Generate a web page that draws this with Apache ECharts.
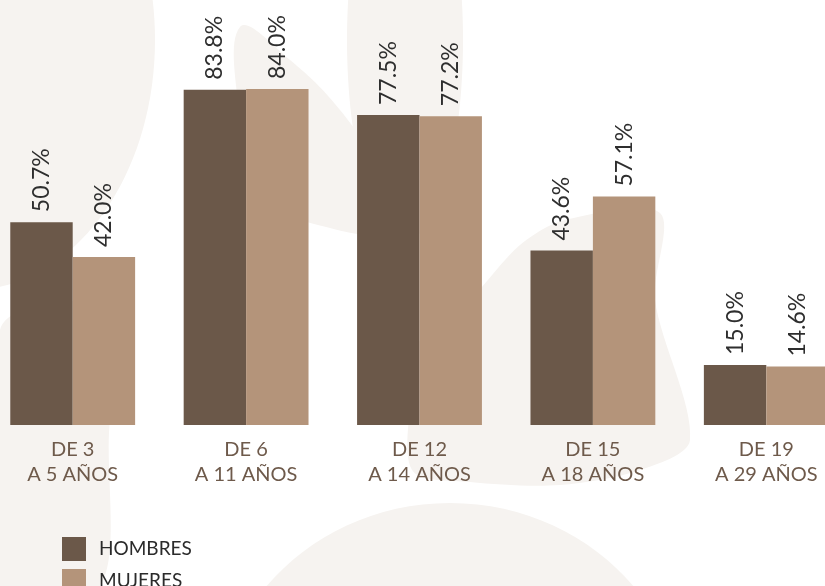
<!DOCTYPE html>
<html>
<head>
<meta charset="utf-8">
<script src="https://cdn.jsdelivr.net/npm/echarts@6/dist/echarts.min.js"></script>
<style>
html,body{margin:0;padding:0;background:#fff;}
#chart{width:825px;height:586px;}
</style>
</head>
<body>
<div id="chart"></div>
<script>
const categories = ['DE 3\nA 5 AÑOS', 'DE 6\nA 11 AÑOS', 'DE 12\nA 14 AÑOS', 'DE 15\nA 18 AÑOS', 'DE 19\nA 29 AÑOS'];
const hombres = [50.7, 83.8, 77.5, 43.6, 15.0];
const mujeres = [42.0, 84.0, 77.2, 57.1, 14.6];
const seriesNames = ['HOMBRES', 'MUJERES'];

const tint = '#f6f3f0';
const chart = echarts.init(document.getElementById('chart'), null, {renderer: 'canvas'});
const labelCfg = {
  show: true,
  position: 'top',
  rotate: 90,
  align: 'left',
  verticalAlign: 'middle',
  distance: 10,
  fontFamily: 'Lato',
  fontSize: 23,
  color: '#2e2e2e',
  formatter: p => p.value.toFixed(1) + '%'
};
chart.setOption({
  backgroundColor: '#ffffff',
  animation: false,
  graphic: [
    {type: 'ellipse', silent: true, z: -10, shape: {cx: -30, cy: 40, rx: 185, ry: 250}, style: {fill: tint}},
    {type: 'polygon', silent: true, z: -10, shape: {points: [[240,27],[290,60],[340,110],[380,170],[412,240],[370,236],[330,228],[290,215],[255,190],[240,120]], smooth: 0.4}, style: {fill: tint}},
    {type: 'ellipse', silent: true, z: -10, shape: {cx: 405, cy: 40, rx: 58, ry: 200}, style: {fill: tint}},
    {type: 'polygon', silent: true, z: -10, shape: {points: [[412,350],[470,300],[520,245],[565,220],[660,213],[655,300],[690,440],[640,470],[560,485],[470,482],[412,470],[412,380]], smooth: 0.3}, style: {fill: tint}},
    {type: 'ellipse', silent: true, z: -10, shape: {cx: 450, cy: 725, rx: 235, ry: 222}, style: {fill: tint}},
    {type: 'polygon', silent: true, z: -10, shape: {points: [[0,330],[60,300],[130,330],[110,420],[100,586],[0,586]], smooth: 0.3}, style: {fill: tint}}
  ],
  grid: {left: -14, width: 867, top: 25, height: 400, containLabel: false, outerBoundsMode: 'none'},
  legend: {
    orient: 'vertical',
    left: 57,
    top: 532,
    height: 80,
    itemWidth: 24,
    itemHeight: 24,
    itemGap: 8,
    icon: 'rect',
    textStyle: {fontFamily: 'Lato', fontSize: 19, color: '#2b2b2b', padding: [0, 0, 0, 8]},
    data: seriesNames
  },
  xAxis: {
    type: 'category',
    data: categories,
    axisLine: {show: false},
    axisTick: {show: false},
    axisLabel: {
      margin: 12,
      fontFamily: 'Lato',
      fontSize: 20,
      lineHeight: 25,
      color: '#6e5a4b'
    }
  },
  yAxis: {
    type: 'value',
    min: 0,
    max: 100,
    show: false,
    splitLine: {show: false}
  },
  series: [
    {
      name: seriesNames[0],
      type: 'bar',
      data: hombres,
      barGap: '0%',
      barCategoryGap: '28%',
      itemStyle: {color: '#6b5849'},
      label: labelCfg
    },
    {
      name: seriesNames[1],
      type: 'bar',
      data: mujeres,
      itemStyle: {color: '#b4947a'},
      label: labelCfg
    }
  ]
});
</script>
</body>
</html>
